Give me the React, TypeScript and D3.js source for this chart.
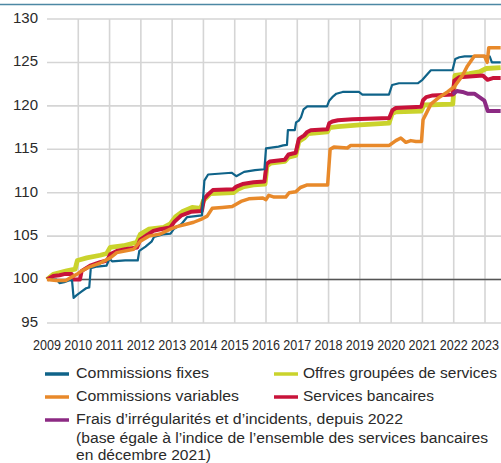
import React from "react";
import * as d3 from "d3";

// ---------- data ----------
const yTicks = [95, 100, 105, 110, 115, 120, 125, 130];
const xYears = [2009, 2010, 2011, 2012, 2013, 2014, 2015, 2016, 2017, 2018, 2019, 2020, 2021, 2022, 2023];

const fixesT = [2009.0, 2009.3, 2009.4, 2009.55, 2009.7, 2009.8, 2009.85, 2009.95, 2010.1, 2010.25, 2010.35, 2010.4, 2010.6, 2010.9, 2011.0, 2011.08, 2011.5, 2011.9, 2011.95, 2012.15, 2012.35, 2012.42, 2012.7, 2012.95, 2013.05, 2013.3, 2013.48, 2013.95, 2014.03, 2014.15, 2014.9, 2015.05, 2015.3, 2015.65, 2015.95, 2016.0, 2016.4, 2016.55, 2016.67, 2016.7, 2016.92, 2016.96, 2017.05, 2017.12, 2017.2, 2017.32, 2017.95, 2018.02, 2018.12, 2018.25, 2018.45, 2018.97, 2019.08, 2019.93, 2020.03, 2020.25, 2020.85, 2021.0, 2021.12, 2021.27, 2021.96, 2022.05, 2022.18, 2022.35, 2023.15, 2023.22, 2023.5];
const fixesV = [100, 100.0, 99.6, 99.7, 99.9, 99.9, 97.9, 98.2, 98.6, 99.0, 99.1, 101.3, 101.5, 101.6, 102.4, 102.1, 102.2, 102.2, 103.3, 103.8, 104.4, 104.9, 105.2, 105.3, 105.8, 106.4, 107.2, 107.4, 111.4, 112.1, 112.3, 111.9, 112.4, 112.6, 112.7, 115.1, 115.3, 115.45, 115.5, 117.2, 117.2, 118.1, 118.3, 118.7, 119.6, 119.95, 119.95, 120.6, 121.0, 121.4, 121.6, 121.6, 121.3, 121.3, 122.4, 122.6, 122.6, 123.0, 123.5, 124.1, 124.1, 125.4, 125.6, 125.7, 125.7, 125.0, 125.0];

const variablesT = [2009.0, 2009.3, 2009.6, 2009.79, 2009.95, 2010.11, 2010.38, 2010.7, 2011.02, 2011.23, 2011.77, 2011.98, 2012.25, 2012.62, 2012.94, 2013.15, 2013.48, 2013.69, 2013.96, 2014.12, 2014.28, 2014.6, 2014.92, 2015.2, 2015.45, 2015.9, 2016.0, 2016.09, 2016.26, 2016.63, 2016.74, 2016.95, 2017.1, 2017.32, 2017.97, 2018.05, 2018.17, 2018.6, 2018.71, 2019.94, 2020.15, 2020.31, 2020.47, 2020.63, 2020.79, 2020.97, 2021.02, 2021.12, 2021.27, 2021.54, 2021.8, 2022.02, 2022.28, 2022.44, 2022.66, 2022.98, 2023.07, 2023.12, 2023.5];
const variablesV = [100, 99.9, 99.9, 100.3, 100.6, 101.0, 101.5, 101.9, 102.5, 103.1, 103.5, 104.4, 105.0, 105.25, 105.8, 106.1, 106.4, 106.6, 107.0, 107.3, 108.2, 108.3, 108.4, 109.0, 109.3, 109.4, 109.2, 109.7, 109.5, 109.5, 110.0, 110.1, 110.6, 110.9, 110.9, 115.0, 115.25, 115.15, 115.45, 115.45, 116.0, 116.3, 115.8, 116.0, 115.9, 115.9, 118.4, 119.1, 120.2, 121.0, 121.6, 122.2, 123.5, 124.6, 125.75, 125.75, 125.0, 126.7, 126.7];

const offresT = [2009.0, 2009.2, 2009.63, 2009.9, 2009.97, 2010.27, 2010.7, 2010.91, 2011.02, 2011.45, 2011.87, 2011.98, 2012.25, 2012.73, 2012.94, 2013.1, 2013.32, 2013.64, 2013.92, 2014.0, 2014.22, 2014.95, 2015.1, 2015.3, 2015.6, 2015.97, 2016.03, 2016.15, 2016.6, 2016.72, 2016.95, 2017.05, 2017.22, 2017.35, 2017.96, 2018.03, 2018.3, 2019.0, 2019.93, 2020.03, 2020.15, 2020.96, 2021.05, 2021.97, 2022.04, 2022.5, 2022.82, 2023.04, 2023.5];
const offresV = [100, 100.6, 101.0, 101.2, 102.2, 102.5, 102.8, 103.0, 103.7, 103.9, 104.3, 105.2, 105.8, 106.0, 106.4, 107.2, 107.8, 108.3, 108.2, 109.1, 109.9, 110.0, 110.4, 110.7, 110.9, 111.0, 113.1, 113.4, 113.6, 114.1, 114.3, 115.9, 116.3, 116.8, 117.0, 117.5, 117.6, 117.8, 118.0, 119.1, 119.3, 119.4, 120.1, 120.2, 123.5, 123.7, 123.9, 124.3, 124.4];

const bancairesT = [2009.0, 2009.2, 2009.4, 2009.58, 2009.79, 2009.83, 2010.05, 2010.11, 2010.38, 2010.7, 2010.92, 2011.02, 2011.23, 2011.5, 2011.88, 2011.98, 2012.19, 2012.4, 2012.62, 2012.94, 2013.08, 2013.3, 2013.6, 2013.95, 2014.02, 2014.12, 2014.3, 2014.95, 2015.05, 2015.25, 2015.6, 2015.95, 2016.02, 2016.12, 2016.6, 2016.72, 2016.95, 2017.05, 2017.22, 2017.32, 2017.43, 2017.96, 2018.02, 2018.12, 2018.3, 2018.76, 2019.94, 2020.04, 2020.15, 2020.96, 2021.02, 2021.12, 2021.33, 2021.97, 2022.02, 2022.18, 2022.93, 2023.08, 2023.25, 2023.5];
const bancairesV = [100, 100.4, 100.5, 100.65, 100.65, 100.0, 100.0, 101.0, 101.6, 102.0, 102.2, 102.9, 103.3, 103.5, 103.7, 104.6, 105.1, 105.6, 105.8, 106.0, 106.7, 107.4, 107.8, 107.9, 109.3, 109.7, 110.3, 110.4, 110.7, 111.0, 111.2, 111.3, 113.3, 113.6, 113.8, 114.4, 114.6, 116.2, 116.6, 117.0, 117.2, 117.3, 118.0, 118.2, 118.35, 118.45, 118.6, 119.5, 119.75, 119.9, 120.65, 121.0, 121.2, 121.3, 122.9, 123.3, 123.5, 123.0, 123.2, 123.2];

const fraisT = [2021.97, 2022.1, 2022.28, 2022.44, 2022.66, 2022.82, 2022.98, 2023.09, 2023.5];
const fraisV = [121.3, 121.7, 121.6, 121.4, 121.4, 121.0, 120.6, 119.4, 119.4];

const seriesNames = [
  "Commissions fixes",
  "Commissions variables",
  "Offres groupées de services",
  "Services bancaires",
  "Frais d\u2019irrégularités et d\u2019incidents, depuis 2022",
];
const fraisNote = [
  "(base égale à l\u2019indice de l\u2019ensemble des services bancaires",
  "en décembre 2021)",
];

// ---------- styles ----------
const C_FIXES = "#0f6389";
const C_VAR = "#e8892a";
const C_OFFRES = "#cad32c";
const C_BANC = "#c8133a";
const C_FRAIS = "#8c2a83";

const W = 501;
const H = 463;

export default function App() {
  const x = d3.scaleLinear().domain([2009, 2023]).range([47, 485]);
  const y = d3.scaleLinear().domain([95, 130]).range([323, 19]);
  const plotRight = 501;

  const mk = (t: number[], v: number[]) =>
    d3
      .line<number>()
      .x((_, i) => x(t[i]))
      .y((d) => y(d))(v) as string;

  const lines = [
    { d: mk(offresT, offresV), c: C_OFFRES, w: 4.8 },
    { d: mk(bancairesT, bancairesV), c: C_BANC, w: 4 },
    { d: mk(fixesT, fixesV), c: C_FIXES, w: 2.2 },
    { d: mk(variablesT, variablesV), c: C_VAR, w: 3.5 },
    { d: mk(fraisT, fraisV), c: C_FRAIS, w: 4 },
  ];

  const legendFont = "'Liberation Sans Narrow', 'Liberation Sans', Arial, sans-serif";
  const legendSize = 15.5;
  const legendItems = [
    { name: seriesNames[0], c: C_FIXES, sx: 45, tx: 76, y: 372, len: 133 },
    { name: seriesNames[2], c: C_OFFRES, sx: 274, tx: 303, y: 372, len: 194 },
    { name: seriesNames[1], c: C_VAR, sx: 45, tx: 76, y: 395, len: 163 },
    { name: seriesNames[3], c: C_BANC, sx: 274, tx: 303, y: 395, len: 131 },
    { name: seriesNames[4], c: C_FRAIS, sx: 45, tx: 76, y: 418, len: 327 },
  ];
  const noteLens = [412, 135];
  const noteYs = [437, 454];

  return (
    <svg
      width={W}
      height={H}
      style={{ position: "fixed", left: 0, top: 0, background: "#fff" }}
    >
      <rect x={0} y={0} width={W} height={H} fill="#fff" />
      <line x1={0} x2={W} y1={4.5} y2={4.5} stroke="#4d88a4" strokeWidth={1.6} />

      {/* grid */}
      {yTicks.map((t) => (
        <line key={"h" + t} x1={47} x2={plotRight} y1={y(t)} y2={y(t)} stroke="#d5d5d5" strokeWidth={1.6} />
      ))}
      {xYears.slice(1).map((yr) => (
        <line key={"v" + yr} x1={x(yr)} x2={x(yr)} y1={y(130)} y2={y(95)} stroke="#d5d5d5" strokeWidth={1.6} />
      ))}
      <line x1={47} x2={plotRight} y1={y(100)} y2={y(100)} stroke="#555" strokeWidth={1.5} />

      {/* y labels */}
      {yTicks.map((t) => (
        <text
          key={"yl" + t}
          x={38}
          y={y(t) + 3.8}
          textAnchor="end"
          fontFamily="'Liberation Sans', Arial, sans-serif"
          fontSize={15}
          fill="#2a2a2a"
        >
          {t}
        </text>
      ))}

      {/* x labels */}
      {xYears.map((yr) => (
        <text
          key={"xl" + yr}
          x={x(yr)}
          y={350}
          textAnchor="middle"
          fontFamily={legendFont}
          fontSize={14}
          fill="#2a2a2a"
          textLength={28}
          lengthAdjust="spacingAndGlyphs"
        >
          {yr}
        </text>
      ))}

      {/* series */}
      {lines.map((l, i) => (
        <path key={"s" + i} d={l.d} fill="none" stroke={l.c} strokeWidth={l.w} strokeLinejoin="round" strokeLinecap="butt" />
      ))}

      {/* legend */}
      {legendItems.map((it, i) => (
        <g key={"lg" + i}>
          <line x1={it.sx} x2={it.sx + 24} y1={it.y + 2} y2={it.y + 2} stroke={it.c} strokeWidth={3.5} />
          <text
            x={it.tx}
            y={it.y + 5.5}
            fontFamily={legendFont}
            fontSize={legendSize}
            fill="#2a2a2a"
            textLength={it.len}
            lengthAdjust="spacingAndGlyphs"
          >
            {it.name}
          </text>
        </g>
      ))}
      {fraisNote.map((s, i) => (
        <text
          key={"nt" + i}
          x={76}
          y={noteYs[i] + 5.5}
          fontFamily={legendFont}
          fontSize={legendSize}
          fill="#2a2a2a"
          textLength={noteLens[i]}
          lengthAdjust="spacingAndGlyphs"
        >
          {s}
        </text>
      ))}
    </svg>
  );
}
